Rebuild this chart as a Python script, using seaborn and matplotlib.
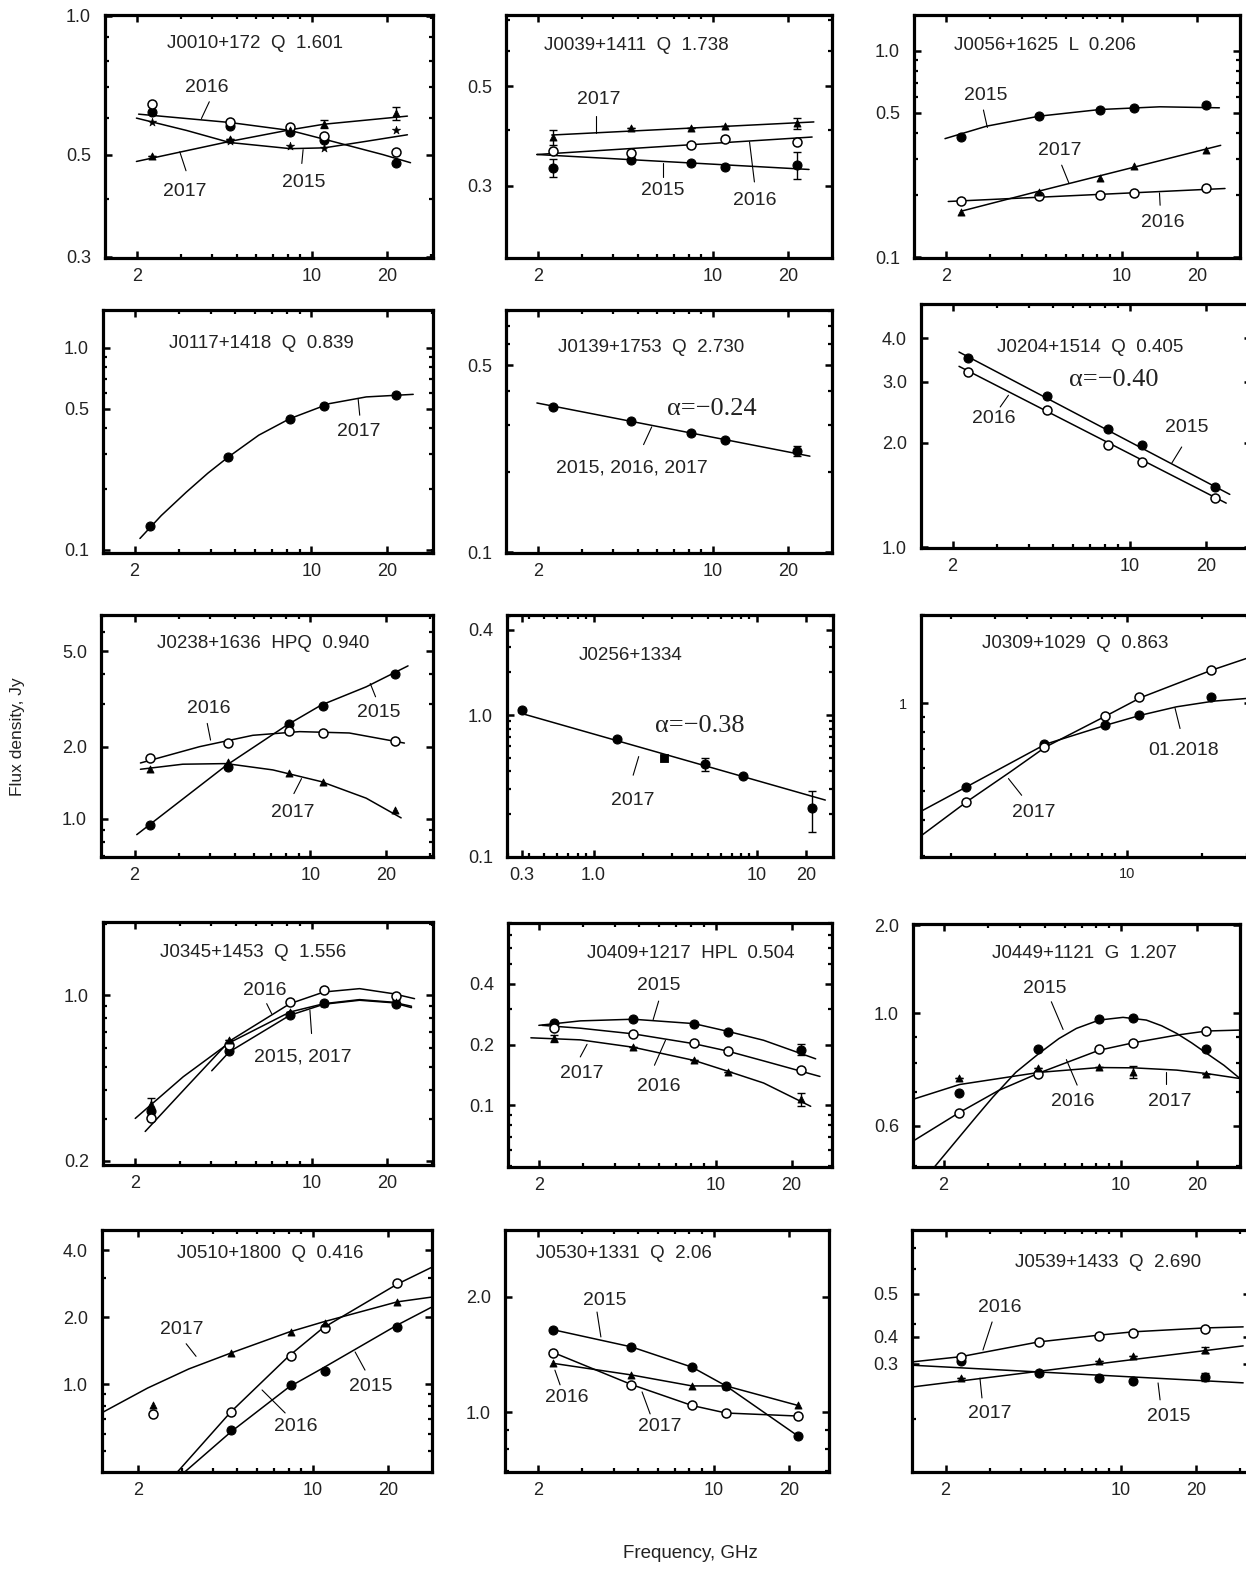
import numpy as np
import matplotlib
matplotlib.use("Agg")
import matplotlib.pyplot as plt
import seaborn as sns
from matplotlib.ticker import FixedLocator, FixedFormatter, NullFormatter, LogLocator

sns.set_theme(style="ticks")
plt.rcParams['font.family'] = ['Liberation Sans', 'DejaVu Sans']

# ---------------- data (GHz, Jy) ----------------
FREQ = [2.3, 4.7, 8.2, 11.2, 21.7]

# J0010+172
j0010_y15 = [0.620, 0.577, 0.561, 0.537, 0.480]
j0010_y16 = [0.644, 0.587, 0.573, 0.549, 0.506]
j0010_y17 = [0.496, 0.540, 0.564, 0.582, 0.614]
j0010_yx = [0.587, 0.534, 0.521, 0.517, 0.566]
j0010_c16x = [2.03, 4.7, 8.2, 12.1, 19.2, 24.8]
j0010_c16y = [0.612, 0.587, 0.564, 0.534, 0.500, 0.480]
j0010_c17x = [1.99, 4.7, 8.2, 11.2, 24.1]
j0010_c17y = [0.483, 0.534, 0.566, 0.582, 0.606]
j0010_c15x = [1.99, 3.16, 4.7, 8.2, 11.2, 16.4, 24.1]
j0010_c15y = [0.600, 0.564, 0.531, 0.515, 0.517, 0.534, 0.552]

# J0039+1411
j0039_y15 = [0.329, 0.343, 0.337, 0.330, 0.334]
j0039_e15 = [0.015, 0, 0, 0, 0.023]
j0039_y16 = [0.358, 0.355, 0.369, 0.382, 0.376]
j0039_y17 = [0.385, 0.404, 0.404, 0.407, 0.413]
j0039_e17 = [0.015, 0, 0, 0, 0.012]
j0039_c17x = [2.27, 25.3]
j0039_c17y = [0.389, 0.416]
j0039_c16x = [1.98, 24.9]
j0039_c16y = [0.352, 0.385]
j0039_c15x = [1.98, 24.2]
j0039_c15y = [0.352, 0.326]

# J0056+1625
j0056_y15 = [0.382, 0.482, 0.515, 0.525, 0.545]
j0056_y16 = [0.188, 0.197, 0.199, 0.205, 0.215]
j0056_y17 = [0.165, 0.207, 0.243, 0.277, 0.330]
j0056_c15x = [1.98, 2.90, 4.70, 8.20, 14.2, 24.5]
j0056_c15y = [0.375, 0.431, 0.482, 0.519, 0.535, 0.529]
j0056_c17x = [2.3, 4.7, 24.8]
j0056_c17y = [0.167, 0.209, 0.348]
j0056_c16x = [2.04, 25.8]
j0056_c16y = [0.186, 0.215]

# J0117+1418
j0117_y17 = [0.131, 0.288, 0.446, 0.514, 0.582]
j0117_c17x = [2.10, 2.55, 3.20, 3.90, 4.69, 6.2, 8.21, 11.8, 16.5, 25.3]
j0117_c17y = [0.114, 0.148, 0.193, 0.240, 0.288, 0.370, 0.446, 0.530, 0.572, 0.589]

# J0139+1753
j0139_y = [0.349, 0.311, 0.280, 0.264, 0.239]
j0139_e = [0, 0, 0, 0, 0.010]
j0139_cx = [1.98, 24.4]
j0139_cy = [0.362, 0.229]

# J0204+1514
j0204_y15 = [3.51, 2.73, 2.19, 1.97, 1.49]
j0204_y16 = [3.20, 2.49, 1.97, 1.76, 1.39]
j0204_c15x = [2.12, 24.9]
j0204_c15y = [3.65, 1.42]
j0204_c16x = [2.12, 24.1]
j0204_c16y = [3.32, 1.34]

# J0238+1636
j0238_y15 = [0.947, 1.65, 2.48, 2.96, 4.01]
j0238_y16 = [1.80, 2.08, 2.32, 2.29, 2.12]
j0238_y17 = [1.62, 1.73, 1.56, 1.43, 1.09]
j0238_c15x = [2.04, 4.63, 8.08, 11.06, 16.7, 24.5]
j0238_c15y = [0.860, 1.67, 2.46, 2.98, 3.55, 4.34]
j0238_c16x = [2.11, 3.63, 5.91, 9.07, 14.3, 23.7]
j0238_c16y = [1.71, 2.00, 2.23, 2.31, 2.28, 2.07]
j0238_c17x = [2.11, 3.11, 4.63, 7.10, 11.06, 16.7, 23.0]
j0238_c17y = [1.61, 1.69, 1.70, 1.60, 1.43, 1.22, 1.01]

# J0256+1334
j0256_x = [0.365, 1.4, 2.7, 4.8, 8.2, 21.7]
j0256_y = [1.08, 0.673, 0.50, 0.449, 0.371, 0.219]
j0256_e = [0, 0, 0, 0.045, 0, 0.07]
j0256_cx = [0.347, 26.2]
j0256_cy = [1.04, 0.251]

# J0309+1029
j0309_y18 = [0.516, 0.726, 0.847, 0.912, 1.048]
j0309_y17 = [0.461, 0.710, 0.907, 1.048, 1.30]
j0309_c18x = [1.53, 2.31, 4.76, 8.28, 11.4, 15.8, 22.1, 30.0]
j0309_c18y = [0.429, 0.519, 0.726, 0.843, 0.912, 0.974, 1.018, 1.04]
j0309_c17x = [1.53, 2.31, 3.44, 4.76, 8.28, 11.4, 21.8, 30.0]
j0309_c17y = [0.354, 0.461, 0.583, 0.710, 0.907, 1.048, 1.30, 1.426]

# J0345+1453
j0345_y15 = [0.326, 0.583, 0.824, 0.931, 0.917]
j0345_y16 = [0.302, 0.616, 0.937, 1.05, 0.994]
j0345_y17 = [0.347, 0.646, 0.851, 0.931, 0.937]
j0345_c16x = [2.19, 3.2, 4.72, 8.21, 11.2, 15.5, 21.05, 25.6]
j0345_c16y = [0.266, 0.411, 0.64, 0.922, 1.033, 1.067, 1.016, 0.968]
j0345_c17x = [2.0, 3.1, 4.72, 8.21, 11.2, 15.5, 21.05, 24.9]
j0345_c17y = [0.302, 0.453, 0.63, 0.85, 0.922, 0.959, 0.935, 0.899]
j0345_c15x = [4.02, 4.72, 8.21, 11.2, 15.5, 21.05, 24.9]
j0345_c15y = [0.480, 0.577, 0.824, 0.917, 0.953, 0.93, 0.887]

# J0409+1217
j0409_y15 = [0.256, 0.267, 0.252, 0.232, 0.189]
j0409_e15 = [0, 0, 0, 0, 0.012]
j0409_y16 = [0.242, 0.226, 0.204, 0.186, 0.149]
j0409_y17 = [0.215, 0.194, 0.167, 0.147, 0.107]
j0409_e17 = [0.008, 0, 0, 0, 0.008]
j0409_c15x = [2.0, 2.92, 4.72, 8.21, 11.1, 15.5, 24.9]
j0409_c15y = [0.249, 0.262, 0.267, 0.254, 0.233, 0.210, 0.170]
j0409_c16x = [2.06, 2.92, 4.72, 8.21, 11.1, 15.5, 25.9]
j0409_c16y = [0.249, 0.241, 0.226, 0.202, 0.186, 0.166, 0.139]
j0409_c17x = [1.86, 2.92, 4.72, 8.21, 11.1, 15.5, 23.8]
j0409_c17y = [0.216, 0.211, 0.194, 0.167, 0.148, 0.129, 0.0989]

# J0449+1121
j0449_y15 = [0.697, 0.850, 0.974, 0.977, 0.850]
j0449_y16 = [0.637, 0.761, 0.849, 0.875, 0.923]
j0449_y17 = [0.746, 0.779, 0.785, 0.767, 0.761]
j0449_e17 = [0, 0, 0, 0.02, 0]
j0449_c15x = [1.84, 2.31, 2.70, 3.13, 3.85, 4.76, 5.70, 6.68, 8.21, 10.2, 12.6, 14.5, 16.6, 19.0, 21.8, 25.5, 29.5]
j0449_c15y = [0.498, 0.571, 0.627, 0.684, 0.765, 0.834, 0.892, 0.934, 0.970, 0.982, 0.970, 0.945, 0.913, 0.875, 0.834, 0.790, 0.744]
j0449_c16x = [1.515, 2.30, 3.30, 4.76, 8.21, 11.2, 16.6, 21.8, 29.5]
j0449_c16y = [0.560, 0.637, 0.705, 0.763, 0.846, 0.875, 0.906, 0.923, 0.927]
j0449_c17x = [1.515, 2.31, 4.76, 8.21, 11.2, 16.6, 21.8, 29.5]
j0449_c17y = [0.677, 0.724, 0.765, 0.782, 0.781, 0.773, 0.761, 0.744]

# J0510+1800
j0510_x15 = [4.7, 8.2, 11.2, 21.7]
j0510_y15 = [0.621, 0.99, 1.14, 1.80]
j0510_y16 = [0.733, 0.749, 1.336, 1.785, 2.84]
j0510_y17 = [0.805, 1.378, 1.712, 1.88, 2.34]
j0510_c16x = [2.88, 4.70, 8.02, 10.96, 21.7, 29.9]
j0510_c16y = [0.403, 0.749, 1.336, 1.785, 2.81, 3.35]
j0510_c15x = [3.08, 4.7, 8.02, 10.96, 21.7, 29.9]
j0510_c15y = [0.403, 0.609, 0.969, 1.18, 1.84, 2.22]
j0510_c17x = [1.43, 2.19, 3.2, 4.7, 8.02, 10.96, 21.7, 29.9]
j0510_c17y = [0.741, 0.96, 1.17, 1.378, 1.712, 1.90, 2.34, 2.46]

# J0530+1331
j0530_y15 = [1.64, 1.48, 1.31, 1.17, 0.865]
j0530_y16 = [1.43, 1.18, 1.04, 0.994, 0.976]
j0530_y17 = [1.34, 1.25, 1.17, 1.17, 1.04]

# J0539+1433
j0539_y15 = [0.306, 0.281, 0.271, 0.265, 0.273]
j0539_e15 = [0, 0, 0, 0, 0.008]
j0539_y16 = [0.316, 0.352, 0.368, 0.376, 0.387]
j0539_y17 = [0.271, 0.283, 0.306, 0.318, 0.332]
j0539_e17 = [0, 0, 0, 0, 0.008]
j0539_c16x = [1.46, 2.3, 4.7, 8.2, 11.2, 21.7, 30.8]
j0539_c16y = [0.304, 0.316, 0.352, 0.370, 0.379, 0.390, 0.393]
j0539_c15x = [1.46, 30.8]
j0539_c15y = [0.297, 0.261]
j0539_c17x = [1.46, 30.8]
j0539_c17y = [0.253, 0.342]

# ---------------- styles ----------------
STY = {
    'filled': dict(marker='o', s=42, color='black', edgecolor='black', linewidth=0.8),
    'open': dict(marker='o', s=42, color='white', edgecolor='black', linewidth=1.1),
    'tri': dict(marker='^', s=26, color='black', edgecolor='black', linewidth=0.6),
    'star': dict(marker='*', s=40, color='black', edgecolor='black', linewidth=0.4),
    'square': dict(marker='s', s=30, color='black', edgecolor='black', linewidth=0.6),
}

STD_XT = ([2, 10, 20], ["2", "10", "20"])

PANELS = [
    dict(box=(105, 15, 433, 258), xlim=(1.49, 30.5), ylim=(0.298, 1.005),
         yt=([1.0, 0.5, 0.3], ["1.0", "0.5", "0.3"]), title="J0010+172  Q  1.601", tpos=(0.457, 0.883),
         series=[(FREQ, j0010_y15, None, 'filled'), (FREQ, j0010_y16, None, 'open'),
                 (FREQ, j0010_y17, [0, 0, 0, 0.012, 0.02], 'tri'), (FREQ, j0010_yx, None, 'star')],
         curves=[(j0010_c16x, j0010_c16y), (j0010_c17x, j0010_c17y), (j0010_c15x, j0010_c15y)],
         labels=[("2016", (0.31, 0.70), ((0.318, 0.643), (0.294, 0.574))),
                 ("2017", (0.244, 0.272), ((0.247, 0.359), (0.228, 0.437))),
                 ("2015", (0.606, 0.309), ((0.600, 0.389), (0.604, 0.446)))]),
    dict(box=(506, 15, 832, 258), xlim=(1.49, 29.9), ylim=(0.207, 0.72),
         yt=([0.5, 0.3], ["0.5", "0.3"]), title="J0039+1411  Q  1.738", tpos=(0.401, 0.876),
         series=[(FREQ, j0039_y15, j0039_e15, 'filled'), (FREQ, j0039_y16, None, 'open'),
                 (FREQ, j0039_y17, j0039_e17, 'tri')],
         curves=[(j0039_c17x, j0039_c17y), (j0039_c16x, j0039_c16y), (j0039_c15x, j0039_c15y)],
         labels=[("2017", (0.284, 0.652), ((0.276, 0.584), (0.276, 0.515))),
                 ("2015", (0.481, 0.276), ((0.481, 0.334), (0.481, 0.393))),
                 ("2016", (0.762, 0.238), ((0.762, 0.313), (0.747, 0.478)))]),
    dict(box=(914, 15, 1240, 258), xlim=(1.49, 29.6), ylim=(0.099, 1.49),
         yt=([1.0, 0.5, 0.1], ["1.0", "0.5", "0.1"]), title="J0056+1625  L  0.206", tpos=(0.402, 0.876),
         series=[(FREQ, j0056_y15, None, 'filled'), (FREQ, j0056_y16, None, 'open'),
                 (FREQ, j0056_y17, None, 'tri')],
         curves=[(j0056_c15x, j0056_c15y), (j0056_c17x, j0056_c17y), (j0056_c16x, j0056_c16y)],
         labels=[("2015", (0.221, 0.670), ((0.213, 0.609), (0.225, 0.537))),
                 ("2017", (0.448, 0.444), ((0.453, 0.382), (0.475, 0.309))),
                 ("2016", (0.763, 0.148), ((0.755, 0.217), (0.753, 0.268)))]),
    dict(box=(103, 310, 433, 553), xlim=(1.50, 30.3), ylim=(0.0966, 1.54),
         yt=([1.0, 0.5, 0.1], ["1.0", "0.5", "0.1"]), title="J0117+1418  Q  0.839", tpos=(0.480, 0.863),
         series=[(FREQ, j0117_y17, None, 'filled')],
         curves=[(j0117_c17x, j0117_c17y)],
         labels=[("2017", (0.776, 0.499), ((0.773, 0.636), (0.778, 0.567)))]),
    dict(box=(506, 310, 832, 553), xlim=(1.49, 29.9), ylim=(0.0995, 0.806),
         yt=([0.5, 0.1], ["0.5", "0.1"]), title="J0139+1753  Q  2.730", tpos=(0.444, 0.844),
         series=[(FREQ, j0139_y, j0139_e, 'filled')],
         curves=[(j0139_cx, j0139_cy)],
         labels=[("2015, 2016, 2017", (0.386, 0.348), ((0.422, 0.446), (0.447, 0.519)))],
         alpha=("α=−0.24", (0.632, 0.591))),
    dict(box=(921, 304, 1251, 548), xlim=(1.50, 30.2), ylim=(0.995, 5.02),
         yt=([4.0, 3.0, 2.0, 1.0], ["4.0", "3.0", "2.0", "1.0"]), title="J0204+1514  Q  0.405", tpos=(0.513, 0.820),
         series=[(FREQ, j0204_y15, None, 'filled'), (FREQ, j0204_y16, None, 'open')],
         curves=[(j0204_c15x, j0204_c15y), (j0204_c16x, j0204_c16y)],
         labels=[("2016", (0.220, 0.530), ((0.240, 0.578), (0.265, 0.626))),
                 ("2015", (0.805, 0.492), ((0.790, 0.414), (0.760, 0.348)))],
         alpha=("α=−0.40", (0.583, 0.687))),
    dict(box=(101, 615, 433, 857), xlim=(1.47, 30.8), ylim=(0.694, 7.07),
         yt=([5.0, 2.0, 1.0], ["5.0", "2.0", "1.0"]), title="J0238+1636  HPQ  0.940", tpos=(0.488, 0.883),
         series=[(FREQ, j0238_y15, None, 'filled'), (FREQ, j0238_y16, None, 'open'),
                 (FREQ, j0238_y17, None, 'tri')],
         curves=[(j0238_c15x, j0238_c15y), (j0238_c16x, j0238_c16y), (j0238_c17x, j0238_c17y)],
         labels=[("2016", (0.326, 0.614), ((0.320, 0.552), (0.330, 0.483))),
                 ("2015", (0.837, 0.596), ((0.827, 0.662), (0.811, 0.717))),
                 ("2017", (0.579, 0.182), ((0.581, 0.262), (0.604, 0.324)))]),
    dict(box=(507, 615, 833, 857), xlim=(0.295, 29.2), ylim=(0.0995, 5.08),
         xt=([0.365, 1, 10, 20], ["0.3", "1.0", "10", "20"]),
         yt=([4.0, 1.0, 0.1], ["0.4", "1.0", "0.1"]), title="J0256+1334", tpos=(0.380, 0.834),
         series=[([j0256_x[i] for i in (0, 1, 3, 4, 5)], [j0256_y[i] for i in (0, 1, 3, 4, 5)],
                  [j0256_e[i] for i in (0, 1, 3, 4, 5)], 'filled'),
                 ([j0256_x[2]], [j0256_y[2]], None, 'square')],
         curves=[(j0256_cx, j0256_cy)],
         labels=[("2017", (0.387, 0.232), ((0.387, 0.338), (0.404, 0.415)))],
         alpha=("α=−0.38", (0.591, 0.542))),
    dict(box=(921, 615, 1251, 857), xlim=(1.52, 31.2), ylim=(0.2985, 2.006),
         xt=([10], ["10"]), yt=([1.0], ["1"]), small=True, title="J0309+1029  Q  0.863", tpos=(0.467, 0.883),
         series=[(FREQ, j0309_y18, None, 'filled'), (FREQ, j0309_y17, None, 'open')],
         curves=[(j0309_c18x, j0309_c18y), (j0309_c17x, j0309_c17y)],
         labels=[("01.2018", (0.795, 0.441), ((0.785, 0.531), (0.770, 0.614))),
                 ("2017", (0.342, 0.182), ((0.305, 0.255), (0.265, 0.324)))]),
    dict(box=(103, 922, 433, 1165), xlim=(1.49, 30.3), ylim=(0.192, 2.04),
         yt=([1.0, 0.2], ["1.0", "0.2"]), title="J0345+1453  Q  1.556", tpos=(0.456, 0.873),
         series=[(FREQ, j0345_y15, None, 'filled'), (FREQ, j0345_y16, None, 'open'),
                 (FREQ, j0345_y17, [0.02, 0, 0, 0, 0.02], 'tri')],
         curves=[(j0345_c16x, j0345_c16y), (j0345_c17x, j0345_c17y), (j0345_c15x, j0345_c15y)],
         labels=[("2016", (0.491, 0.719), ((0.496, 0.664), (0.511, 0.623))),
                 ("2015, 2017", (0.607, 0.445), ((0.632, 0.541), (0.627, 0.637)))]),
    dict(box=(508, 923, 832, 1167), xlim=(1.51, 28.9), ylim=(0.0495, 0.80),
         yt=([0.4, 0.2, 0.1], ["0.4", "0.2", "0.1"]), title="J0409+1217  HPL  0.504", tpos=(0.563, 0.877),
         series=[(FREQ, j0409_y15, j0409_e15, 'filled'), (FREQ, j0409_y16, None, 'open'),
                 (FREQ, j0409_y17, j0409_e17, 'tri')],
         curves=[(j0409_c15x, j0409_c15y), (j0409_c16x, j0409_c16y), (j0409_c17x, j0409_c17y)],
         labels=[("2015", (0.465, 0.745), ((0.465, 0.680), (0.448, 0.604))),
                 ("2017", (0.228, 0.383), ((0.223, 0.451), (0.244, 0.503))),
                 ("2016", (0.465, 0.328), ((0.452, 0.417), (0.486, 0.519)))]),
    dict(box=(913, 924, 1240, 1167), xlim=(1.515, 29.5), ylim=(0.498, 1.50),
         yt=([1.49, 1.0, 0.6], ["2.0", "1.0", "0.6"]), title="J0449+1121  G  1.207", tpos=(0.523, 0.879),
         series=[(FREQ, j0449_y15, None, 'filled'), (FREQ, j0449_y16, None, 'open'),
                 (FREQ, j0449_y17, j0449_e17, 'tri')],
         curves=[(j0449_c15x, j0449_c15y), (j0449_c16x, j0449_c16y), (j0449_c17x, j0449_c17y)],
         labels=[("2015", (0.403, 0.735), ((0.423, 0.680), (0.459, 0.566))),
                 ("2016", (0.490, 0.268), ((0.502, 0.337), (0.469, 0.442))),
                 ("2017", (0.786, 0.268), ((0.773, 0.343), (0.773, 0.391)))]),
    dict(box=(102, 1230, 432, 1472), xlim=(1.44, 29.9), ylim=(0.403, 4.92),
         yt=([4.0, 2.0, 1.0], ["4.0", "2.0", "1.0"]), title="J0510+1800  Q  0.416", tpos=(0.509, 0.901),
         series=[(j0510_x15, j0510_y15, None, 'filled'), (FREQ, j0510_y16, None, 'open'),
                 (FREQ, j0510_y17, None, 'tri')],
         curves=[(j0510_c16x, j0510_c16y), (j0510_c15x, j0510_c15y), (j0510_c17x, j0510_c17y)],
         labels=[("2017", (0.242, 0.587), ((0.255, 0.530), (0.285, 0.478))),
                 ("2016", (0.588, 0.186), ((0.555, 0.244), (0.485, 0.339))),
                 ("2015", (0.815, 0.355), ((0.797, 0.421), (0.767, 0.496)))]),
    dict(box=(505, 1230, 829, 1472), xlim=(1.475, 28.8), ylim=(0.697, 2.99),
         yt=([2.0, 1.0], ["2.0", "1.0"]), title="J0530+1331  Q  2.06", tpos=(0.367, 0.901),
         series=[(FREQ, j0530_y15, None, 'filled'), (FREQ, j0530_y16, None, 'open'),
                 (FREQ, j0530_y17, None, 'tri')],
         curves=[(FREQ, j0530_y15), (FREQ, j0530_y16), (FREQ, j0530_y17)],
         labels=[("2015", (0.309, 0.707), ((0.284, 0.661), (0.296, 0.558))),
                 ("2016", (0.191, 0.306), ((0.170, 0.360), (0.154, 0.421))),
                 ("2017", (0.478, 0.190), ((0.448, 0.240), (0.423, 0.331)))]),
    dict(box=(912, 1230, 1250, 1472), xlim=(1.47, 32.8), ylim=(0.136, 0.798),
         yt=([0.5, 0.365, 0.3], ["0.5", "0.4", "0.3"]), title="J0539+1433  Q  2.690", tpos=(0.580, 0.864),
         series=[(FREQ, j0539_y15, j0539_e15, 'filled'), (FREQ, j0539_y16, None, 'open'),
                 (FREQ, j0539_y17, j0539_e17, 'tri')],
         curves=[(j0539_c16x, j0539_c16y), (j0539_c15x, j0539_c15y), (j0539_c17x, j0539_c17y)],
         labels=[("2016", (0.260, 0.678), ((0.237, 0.620), (0.210, 0.504))),
                 ("2017", (0.231, 0.240), ((0.207, 0.306), (0.201, 0.388))),
                 ("2015", (0.760, 0.231), ((0.734, 0.298), (0.728, 0.368)))]),
]

W, H = 1246, 1570
fig = plt.figure(figsize=(W / 100, H / 100), dpi=100)
TXT = '#222222'

for p in PANELS:
    l, t, r, b = p['box']
    ax = fig.add_axes([l / W, 1 - b / H, (r - l) / W, (b - t) / H])
    ax.set_xscale('log')
    ax.set_yscale('log')
    ax.set_xlim(*p['xlim'])
    ax.set_ylim(*p['ylim'])

    for cx, cy in p['curves']:
        sns.lineplot(x=cx, y=cy, ax=ax, color='black', linewidth=1.1, sort=False,
                     estimator=None, legend=False, zorder=2)
    for sx, sy, se, st in p['series']:
        if se is not None:
            ax.errorbar(sx, sy, yerr=se, fmt='none', ecolor='black', elinewidth=1.0,
                        capsize=3, capthick=1.0, zorder=2.5)
        sns.scatterplot(x=sx, y=sy, ax=ax, legend=False, zorder=3, **STY[st])

    ax.text(*p['tpos'], p['title'], transform=ax.transAxes, ha='center', va='center',
            fontsize=13.5, color=TXT)
    for txt, pos, ptr in p['labels']:
        ax.text(*pos, txt, transform=ax.transAxes, ha='center', va='center',
                fontsize=14, color=TXT)
        (x0, y0), (x1, y1) = ptr
        ax.plot([x0, x1], [y0, y1], transform=ax.transAxes, color='black', lw=0.8)
    if 'alpha' in p:
        atxt, apos = p['alpha']
        ax.text(*apos, atxt, transform=ax.transAxes, ha='center', va='center',
                fontsize=19, color=TXT, family=['Liberation Serif', 'DejaVu Serif'])

    xt = p.get('xt', STD_XT)
    ax.xaxis.set_major_locator(FixedLocator(xt[0]))
    ax.xaxis.set_major_formatter(FixedFormatter(xt[1]))
    ax.xaxis.set_minor_locator(LogLocator(base=10, subs=np.arange(2, 10)))
    ax.xaxis.set_minor_formatter(NullFormatter())
    ax.yaxis.set_major_locator(FixedLocator(p['yt'][0]))
    ax.yaxis.set_major_formatter(FixedFormatter(p['yt'][1]))
    ax.yaxis.set_minor_locator(LogLocator(base=10, subs=np.arange(2, 10)))
    ax.yaxis.set_minor_formatter(NullFormatter())

    fs = 10.5 if p.get('small') else 13
    ax.tick_params(which='both', direction='in', top=True, right=True,
                   labeltop=False, labelright=False, colors='black', labelcolor=TXT,
                   labelsize=fs)
    ax.tick_params(which='major', length=5, width=1.8)
    ax.tick_params(which='minor', length=3, width=1.6)
    ax.tick_params(axis='y', pad=10)
    ax.tick_params(axis='x', pad=7)
    for s in ax.spines.values():
        s.set_linewidth(2.3)
        s.set_color('black')
    ax.grid(False)

fig.text(18 / W, 1 - 737 / H, "Flux density, Jy", rotation=90, ha='center', va='center',
         fontsize=12.5, color=TXT)
fig.text(690 / W, 1 - 1553 / H, "Frequency, GHz", ha='center', va='center',
         fontsize=13.5, color=TXT)

fig.savefig("out.png", dpi=100)
